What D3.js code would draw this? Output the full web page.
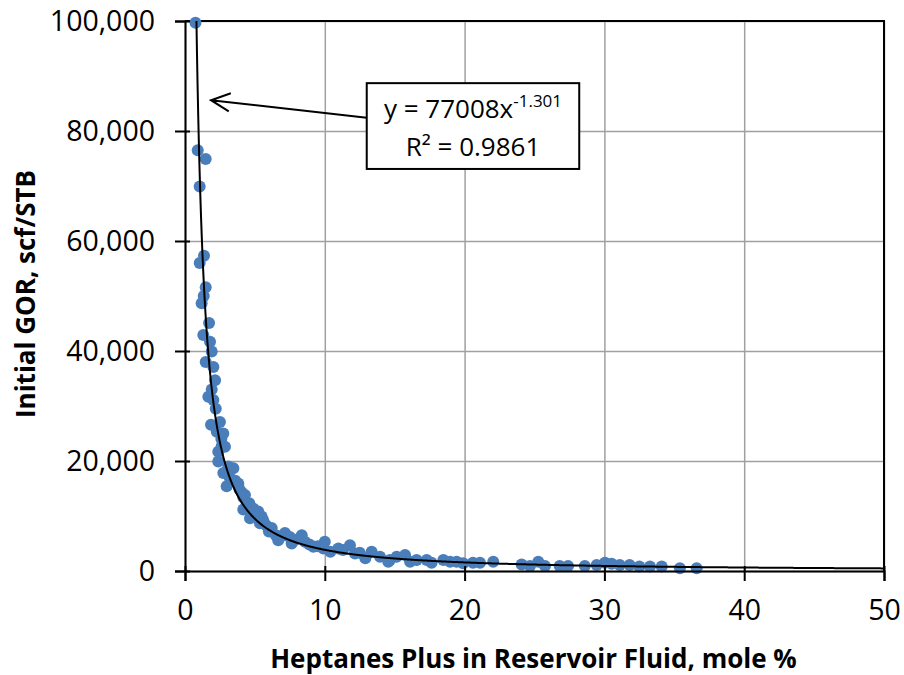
<!DOCTYPE html>
<html>
<head>
<meta charset="utf-8">
<script src="https://cdn.jsdelivr.net/npm/d3@7"></script>
<style>
  body { margin: 0; background: #fff; }
  text { font-family: "Open Sans", sans-serif; fill: #000; }
</style>
</head>
<body>
<svg id="chart" width="904" height="675"></svg>
<script>
// Heptanes plus (mole %) vs initial GOR (scf/STB).
const heptanes = [
  0.75, 0.91, 1.48, 1.05, 1.36, 1.05, 1.48, 1.34, 1.19, 1.72,
  1.31, 1.79, 1.91, 1.48, 2.03, 2.15, 1.91, 1.67, 2.03, 1.86,
  2.50, 2.74, 2.27, 2.86, 2.38, 2.62, 2.38, 3.46, 2.74, 3.10,
  2.98, 3.81, 4.29, 4.05, 4.17, 4.17, 3.60, 4.60, 5.00, 5.24,
  5.48, 4.65, 5.36, 5.80, 6.20, 6.50, 6.67, 7.15, 7.63, 7.50,
  8.35, 8.58, 9.18, 9.90, 10.0, 10.4, 10.97, 11.8, 12.16, 12.9,
  13.35, 13.95, 14.54, 14.66, 15.14, 15.74, 16.1, 16.57, 17.29, 17.64,
  18.48, 18.96, 19.43, 19.9, 20.6, 21.1, 22.05, 24.08, 24.68, 25.27,
  25.75, 26.8, 27.4, 28.6, 29.45, 30.04, 30.52, 31.1, 31.8, 32.5,
  33.26, 34.1, 35.4, 36.6,
  2.20, 2.60, 3.20, 3.90, 4.40, 4.90, 5.60, 6.00, 6.90, 7.90,
  8.90, 9.50, 11.3, 12.5
];
const gor = [
  99700, 76500, 74900, 69900, 57300, 56000, 51600, 50000, 48700, 45100,
  42900, 41700, 39900, 38000, 37100, 34700, 33000, 31700, 31100, 26600,
  27100, 25000, 25300, 22600, 21700, 22700, 19900, 18700, 17800, 19000,
  15400, 15900, 13800, 14300, 11200, 13400, 16400, 12300, 10200, 10800,
  9900, 9600, 8700, 8300, 7800, 6500, 5600, 6900, 5000, 6200,
  6500, 5300, 4400, 4100, 5300, 3500, 4100, 4700, 3200, 2300,
  3500, 2600, 1700, 2000, 2600, 2900, 1700, 2000, 2000, 1500,
  2000, 1700, 1700, 1400, 1500, 1500, 1700, 1200, 900, 1700,
  900, 900, 900, 900, 1100, 1500, 1300, 1100, 1100, 800,
  800, 800, 500, 500,
  29500, 24000, 17000, 14800, 12000, 11300, 9200, 7200, 6300, 5700,
  4800, 4500, 3800, 3300
];

const xTicks = [0, 10, 20, 30, 40, 50];
const yTicks = [0, 20000, 40000, 60000, 80000, 100000];

// Power trendline shown in the chart.
const fitA = 77008, fitB = -1.301, fitR2 = 0.9861;
// Label box and arrow, in data units.
const boxX = [13.0, 28.2], boxY = [73100, 88700];
const arrowFrom = [13.0, 82400], arrowTo = [1.86, 85600];

const xTitle = "Heptanes Plus in Reservoir Fluid, mole %";
const yTitle = "Initial GOR, scf/STB";

const margin = { top: 21, right: 20, bottom: 104, left: 185 };
const svg = d3.select("#chart");
const W = +svg.attr("width"), H = +svg.attr("height");
const w = W - margin.left - margin.right, h = H - margin.top - margin.bottom;

svg.append("rect").attr("width", W).attr("height", H).attr("fill", "#fff");
const g = svg.append("g").attr("transform", `translate(${margin.left},${margin.top})`);

const x = d3.scaleLinear().domain([0, 50]).range([0, w]);
const y = d3.scaleLinear().domain([0, 100000]).range([h, 0]);

// grid
g.append("g").attr("class", "grid")
  .call(d3.axisLeft(y).tickValues(yTicks).tickSize(-w).tickFormat(""))
  .call(s => s.select(".domain").remove());
g.append("g").attr("class", "grid")
  .attr("transform", `translate(0,${h})`)
  .call(d3.axisBottom(x).tickValues(xTicks).tickSize(-h).tickFormat(""))
  .call(s => s.select(".domain").remove());
g.selectAll(".grid line").attr("stroke", "#a0a0a0").attr("stroke-width", 1.5);

// frame (top and right)
g.append("path")
  .attr("d", `M0,0H${w}V${h}`)
  .attr("fill", "none").attr("stroke", "#000").attr("stroke-width", 2);

svg.append("clipPath").attr("id", "plot-clip")
  .append("rect").attr("width", w).attr("height", h);
const fitX = d3.range(0.7, 50.001, 0.05);
const fitLine = d3.line().x(d => x(d)).y(d => y(fitA * Math.pow(d, fitB)));

// points
g.append("g").selectAll("circle")
  .data(heptanes.map((v, i) => [v, gor[i]]))
  .join("circle")
  .attr("cx", d => x(d[0])).attr("cy", d => y(d[1]))
  .attr("r", 6).attr("fill", "#4a7ebb");

// trendline on top of the dots
g.append("path")
  .attr("clip-path", "url(#plot-clip)")
  .datum(fitX)
  .attr("fill", "none").attr("stroke", "#000").attr("stroke-width", 2)
  .attr("d", fitLine);

// axes
const yAxis = g.append("g")
  .call(d3.axisLeft(y).tickValues(yTicks).tickSize(10).tickPadding(20)
    .tickFormat(d3.format(",")));
const xAxis = g.append("g")
  .attr("transform", `translate(0,${h})`)
  .call(d3.axisBottom(x).tickValues(xTicks).tickSize(10).tickPadding(19));
yAxis.selectAll(".tick line").attr("x1", 5);
xAxis.selectAll(".tick line").attr("y1", -5);
[xAxis, yAxis].forEach(a => {
  a.selectAll(".domain").attr("stroke", "#000").attr("stroke-width", 2);
  a.selectAll(".tick line").attr("stroke", "#000").attr("stroke-width", 2);
  a.selectAll(".tick text").attr("font-size", 28.5).attr("font-family", "Open Sans");
});

// axis titles
svg.append("text")
  .attr("x", margin.left + w / 2 - 1).attr("y", 668)
  .attr("text-anchor", "middle").attr("font-weight", "bold").attr("font-size", 26)
  .text(xTitle);
svg.append("text")
  .attr("transform", `translate(35,${margin.top + h / 2 - 2}) rotate(-90)`)
  .attr("text-anchor", "middle").attr("font-weight", "bold").attr("font-size", 26)
  .text(yTitle);

// arrow
const ax0 = x(arrowFrom[0]), ay0 = y(arrowFrom[1]);
const ax1 = x(arrowTo[0]), ay1 = y(arrowTo[1]);
const ang = Math.atan2(ay0 - ay1, ax0 - ax1);
const head = 21, spread = 0.45;
g.append("path")
  .attr("d", `M${ax0},${ay0}L${ax1},${ay1}`
    + `M${ax1 + head * Math.cos(ang - spread)},${ay1 + head * Math.sin(ang - spread)}`
    + `L${ax1},${ay1}`
    + `L${ax1 + head * Math.cos(ang + spread)},${ay1 + head * Math.sin(ang + spread)}`)
  .attr("fill", "none").attr("stroke", "#000").attr("stroke-width", 2);

// equation box
const bx = x(boxX[0]), by = y(boxY[1]);
const bw = x(boxX[1]) - bx, bh = y(boxY[0]) - by;
g.append("rect")
  .attr("x", bx).attr("y", by).attr("width", bw).attr("height", bh)
  .attr("fill", "#fff").attr("stroke", "#000").attr("stroke-width", 2);
const eq = g.append("text")
  .attr("x", bx + bw / 2).attr("y", by + 35)
  .attr("text-anchor", "middle").attr("font-size", 26);
eq.append("tspan").text(`y = ${fitA}x`);
eq.append("tspan").attr("font-size", 17).attr("dy", -11).text(fitB.toFixed(3));
g.append("text")
  .attr("x", bx + bw / 2).attr("y", by + 73)
  .attr("text-anchor", "middle").attr("font-size", 26)
  .text(`R² = ${fitR2}`);
</script>
</body>
</html>
